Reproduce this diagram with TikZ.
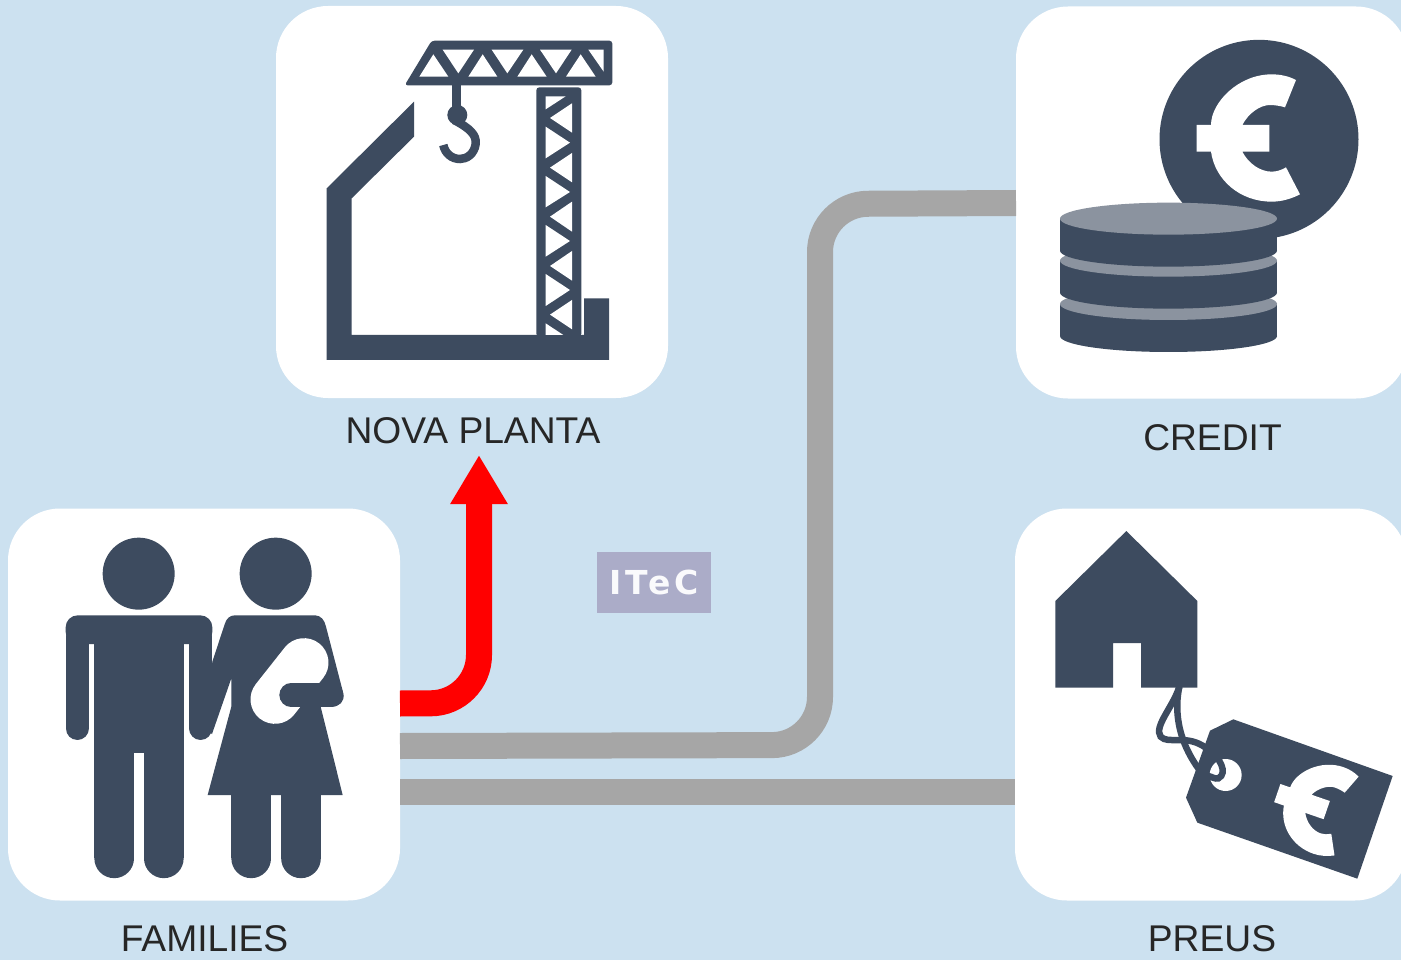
\documentclass[tikz,border=0pt]{standalone}
\usepackage{fontspec}
\setmainfont{Liberation Sans}
\newfontfamily\itecfont[LetterSpace=13]{DejaVu Sans}
\usetikzlibrary{arrows.meta}
\definecolor{bgblue}{RGB}{204,225,240}
\definecolor{ink}{RGB}{61,75,95}
\definecolor{inklight}{RGB}{139,147,159}
\definecolor{pipe}{RGB}{166,166,166}
\definecolor{itecbg}{RGB}{171,172,200}
\definecolor{labelink}{RGB}{38,38,38}
\tikzset{
  card/.style={fill=white,rounded corners=52pt,minimum size=392pt,inner sep=0pt,outer sep=0pt},
  lab/.style={font=\fontsize{37.2}{37.2}\selectfont,text=labelink,inner sep=0pt},
  pipeline/.style={draw=pipe,line width=26pt,rounded corners=48pt},
  redline/.style={draw=red,line width=26pt,rounded corners=48pt,-{Triangle[width=54pt,length=49pt]}},
  zoomed/.style={shift={#1},x=0.33333pt,y=-0.33333pt},
}
\newcommand{\europath}{(768,150) .. controls (745,138) and (720,133) .. (695,133) .. controls (595,133) and (513,218) .. (513,285) -- (470,285) -- (470,365) -- (513,365) .. controls (525,450) and (600,515) .. (695,515) .. controls (725,515) and (755,506) .. (780,493) -- (738,412) .. controls (725,420) and (710,425) .. (695,425) .. controls (660,425) and (625,400) .. (607,365) -- (688,365) -- (688,285) -- (607,285) .. controls (625,250) and (660,225) .. (690,225) .. controls (705,225) and (722,228) .. (735,232) -- cycle}
\newcommand{\coinpart}[1]{%
  \fill[ink] (60,#1) rectangle (711,#1+96);
  \fill[ink] (385.5,#1+96) ellipse [x radius=108.5pt,y radius=16pt];
  \fill[inklight] (385.5,#1) ellipse [x radius=108.5pt,y radius=16pt];
}
\begin{document}
\begin{tikzpicture}[x=1pt,y=-1pt]
\useasboundingbox (0,0) rectangle (1401,960);
\clip (0,0) rectangle (1401,960);
\fill[bgblue] (0,0) rectangle (1401,960);

\node[card] (families) at (204,704.5) {};
\node[card] (nova) at (472,202) {};
\node[card] (credit) at (1212,202.5) {};
\node[card] (preus) at (1211,704.5) {};

\node[lab] (lfam) at (204.5,939) {FAMILIES};
\node[lab] (lnova) at (473,431) {NOVA PLANTA};
\node[lab] (lcredit) at (1212.5,438) {CREDIT};
\node[lab] (lpreus) at (1212,939) {PREUS};

\coordinate (tip) at (479,455);
\coordinate (bend1) at (479,703);
\coordinate (bend2) at (820,745);
\coordinate (bend3) at (820,204);

\draw[pipeline] ([yshift=-41.5pt]families.east) -- (bend2) -- (bend3) -- ([yshift=-0.5pt]credit.west);
\draw[pipeline] ([yshift=-87.5pt]families.east) -- ([yshift=-87.5pt]preus.west);
\draw[redline] ([yshift=1pt]families.east) -- (bend1) -- (tip);

\node[fill=itecbg,minimum width=114pt,minimum height=61pt,inner sep=0pt,
      text=white!94!itecbg,font=\itecfont\bfseries\fontsize{33}{33}\selectfont] (itec) at (654,582.5) {ITeC};

% crane
\begin{scope}[zoomed={(300,20)}]
  \fill[ink] (80,505) -- (342,245) -- (342,350) -- (155,535) -- (155,945) -- (852,945) -- (852,835) -- (927,835) -- (927,1020) -- (80,1020) -- cycle;
  \fill[ink,rounded corners=3pt] (395,62) -- (937,62) -- (937,196) -- (314,196) -- cycle;
  \fill[white]
    (358,170) -- (400,103) -- (445,170) -- cycle
    (428,89) -- (522,89) -- (475,160) -- cycle
    (505,170) -- (548,103) -- (592,170) -- cycle
    (575,89) -- (670,89) -- (622,160) -- cycle
    (652,170) -- (695,103) -- (740,170) -- cycle
    (720,89) -- (815,89) -- (768,160) -- cycle
    (798,170) -- (842,103) -- (887,170) -- cycle
    (865,89) -- (911,89) -- (911,155) -- cycle;
  \fill[ink,rounded corners=3pt] (709,202) rectangle (844,950);
  \fill[white]
    (737,229) -- (797,229) -- (737,268) -- cycle
    (816,250) -- (816,338) -- (750,294) -- cycle
    (737,320) -- (810,368) -- (737,415) -- cycle
    (816,399) -- (816,487) -- (750,443) -- cycle
    (737,468) -- (810,516) -- (737,562) -- cycle
    (816,545) -- (816,635) -- (750,590) -- cycle
    (737,615) -- (810,663) -- (737,710) -- cycle
    (816,693) -- (816,782) -- (750,738) -- cycle
    (737,762) -- (810,810) -- (737,858) -- cycle
    (816,840) -- (816,928) -- (750,884) -- cycle
    (737,910) -- (790,945) -- (737,945) -- cycle;
  \fill[ink] (457,190) rectangle (484,285);
  \fill[ink] (472,285) circle [radius=10pt];
  \draw[ink,line width=8.5pt] (462,300) .. controls (510,325) and (530,345) .. (527,372) .. controls (523,402) and (500,417) .. (480,417) .. controls (455,417) and (435,400) .. (430,375);
\end{scope}

% coins
\begin{scope}[zoomed={(1040,30)}]
  \fill[ink] (657,328) circle [radius=99.5pt];
  \fill[white] \europath;
  \coinpart{822}
  \coinpart{692}
  \coinpart{566}
\end{scope}

% house and tag
\begin{scope}[zoomed={(1040,520)}]
  \fill[ink] (46,243) -- (259,33) -- (472,243) -- (472,503) -- (303,503) -- (303,369) -- (219,369) -- (219,503) -- (46,503) -- cycle;
  \fill[ink] (580,598) -- (1058,768) -- (952,1076) -- (472,908) -- (438,833) -- (510,632) -- cycle;
  \fill[white] (557,765) circle [radius=16pt];
  \draw[ink,line width=6.5pt] (418,500) .. controls (405,560) and (405,660) .. (490,765);
  \draw[ink,line width=6.5pt] (418,500) .. controls (400,560) and (340,620) .. (362,650) .. controls (385,675) and (440,640) .. (500,685) .. controls (540,710) and (565,760) .. (535,775) .. controls (525,778) and (515,770) .. (505,768);
  \begin{scope}[shift={(865,872)},scale=0.72,rotate=-19,shift={(-695,-325)}]
    \fill[white] \europath;
  \end{scope}
\end{scope}

% family
\begin{scope}[zoomed={(50,530)}]
  \fill[ink] (266,131) circle [radius=36pt];
  \fill[ink] (677,131) circle [radius=36pt];
  % man
  \fill[ink,rounded corners=12pt] (47,342) -- (47,256) -- (487,256) -- (487,342) -- cycle;
  \fill[ink] (133,300) rectangle (401,670);
  \draw[ink,line width=23.3pt,line cap=round] (81.5,320) -- (81.5,595);
  \draw[ink,line width=23.3pt,line cap=round] (452,320) -- (452,595);
  \fill[ink] (133,650) rectangle (252,985);
  \fill[ink] (282,650) rectangle (401,985);
  \fill[ink] (192.5,985) circle [radius=19.83pt];
  \fill[ink] (341.5,985) circle [radius=19.83pt];
  % woman
  \fill[ink] (555,256) -- (795,256) .. controls (812,256) and (824,270) .. (828,290) -- (880,490) .. controls (885,515) and (868,530) .. (845,530) -- (812,530) -- (878,795) -- (473,795) -- (544,530) -- (544,445) -- (486,612) -- (470,600) -- (487,395) -- (525,280) .. controls (530,265) and (540,256) .. (555,256) -- cycle;
  \fill[ink] (544,790) rectangle (663,985);
  \fill[ink] (694,790) rectangle (812,985);
  \fill[ink] (603.5,985) circle [radius=19.83pt];
  \fill[ink] (753,985) circle [radius=19.83pt];
  % baby
  \draw[white,line width=49pt,line cap=round] (675,508) -- (762,398);
  \draw[ink,line width=23.3pt,line cap=round] (723,495) -- (845,495);
\end{scope}
\end{tikzpicture}
\end{document}
